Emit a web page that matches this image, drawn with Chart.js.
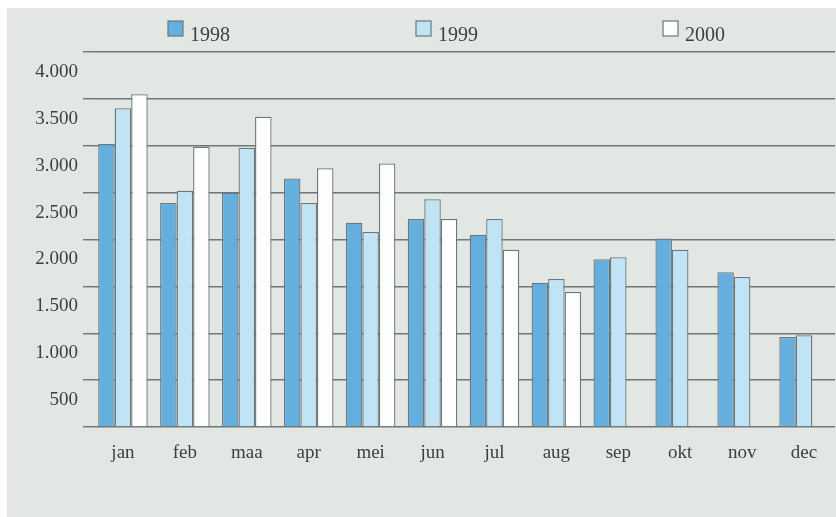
<!DOCTYPE html>
<html>
<head>
<meta charset="utf-8">
<script src="https://cdn.jsdelivr.net/npm/chart.js@4.4.1/dist/chart.umd.min.js"></script>
<style>
  html, body { margin: 0; padding: 0; background: #ffffff; }
  #wrap { width: 836px; height: 517px; position: relative; }
</style>
</head>
<body>
<div id="wrap"><canvas id="myChart"></canvas></div>
<script>
// months (Dutch abbreviations)
const months = ["jan", "feb", "maa", "apr", "mei", "jun", "jul", "aug", "sep", "okt", "nov", "dec"];
const years = ["1998", "1999", "2000"];

const values1998 = [3020, 2390, 2500, 2650, 2180, 2220, 2050, 1540, 1790, 2010, 1650, 960];
const values1999 = [3400, 2520, 2980, 2390, 2080, 2430, 2220, 1580, 1810, 1890, 1600, 980];
const values2000 = [3550, 2990, 3310, 2760, 2810, 2220, 1890, 1440, null, null, null, null];

const yTicks = [0, 500, 1000, 1500, 2000, 2500, 3000, 3500, 4000];

const fillColors = ["#64afde", "#c0e4f5", "#fdfdfd"];
const edge = "#6c777c";
const ink = "#3a3f42";
const serif = "'Liberation Serif', 'DejaVu Serif', serif";

// page background: white rim, grey panel
const panelBg = {
  id: 'panelBg',
  beforeDraw(chart) {
    const c = chart.ctx;
    c.save();
    c.fillStyle = '#ffffff';
    c.fillRect(0, 0, chart.width, chart.height);
    c.fillStyle = '#e3e7e4';
    c.fillRect(7, 8, chart.width - 7, chart.height - 8);
    c.restore();
  }
};

// legend spread across the top like the original
const legendX = [168, 416, 663];
const topLegend = {
  id: 'topLegend',
  afterDraw(chart) {
    const c = chart.ctx;
    c.save();
    chart.data.datasets.forEach((ds, i) => {
      const x = legendX[i];
      c.fillStyle = ds.backgroundColor;
      c.fillRect(x, 21, 15, 15);
      c.strokeStyle = edge;
      c.lineWidth = 1.2;
      c.strokeRect(x, 21, 15, 15);
      c.fillStyle = ink;
      c.font = "20px " + serif;
      c.textBaseline = 'alphabetic';
      c.fillText(ds.label, x + 22, 41);
    });
    c.restore();
  }
};

const ctx = document.getElementById('myChart').getContext('2d');
new Chart(ctx, {
  type: 'bar',
  data: {
    labels: months,
    datasets: [
      { label: years[0], data: values1998, backgroundColor: fillColors[0] },
      { label: years[1], data: values1999, backgroundColor: fillColors[1] },
      { label: years[2], data: values2000, backgroundColor: fillColors[2] }
    ].map(d => Object.assign(d, {
      borderColor: edge,
      borderWidth: 1.3,
      categoryPercentage: 0.8,
      barPercentage: 1.0
    }))
  },
  options: {
    responsive: true,
    maintainAspectRatio: false,
    animation: false,
    layout: { padding: { top: 52, right: 1, bottom: 0, left: 0 } },
    plugins: {
      legend: { display: false },
      tooltip: { enabled: false }
    },
    scales: {
      x: {
        grid: { display: false, drawTicks: false },
        border: { display: false },
        ticks: { color: ink, font: { family: serif, size: 19 }, padding: 15 },
        afterFit(scale) { scale.height = 90; }
      },
      y: {
        min: yTicks[0],
        max: yTicks[yTicks.length - 1],
        afterBuildTicks(scale) { scale.ticks = yTicks.map(v => ({ value: v })); },
        grid: { color: '#6f7778', lineWidth: 1.4, tickLength: 9 },
        border: { display: false },
        ticks: {
          color: ink,
          font: { family: serif, size: 19 },
          padding: 5,
          labelOffset: 20,
          callback: v => v === 0 ? '' : v.toLocaleString('de-DE')
        },
        afterFit(scale) { scale.width = 92; }
      }
    }
  },
  plugins: [panelBg, topLegend]
});
</script>
</body>
</html>
